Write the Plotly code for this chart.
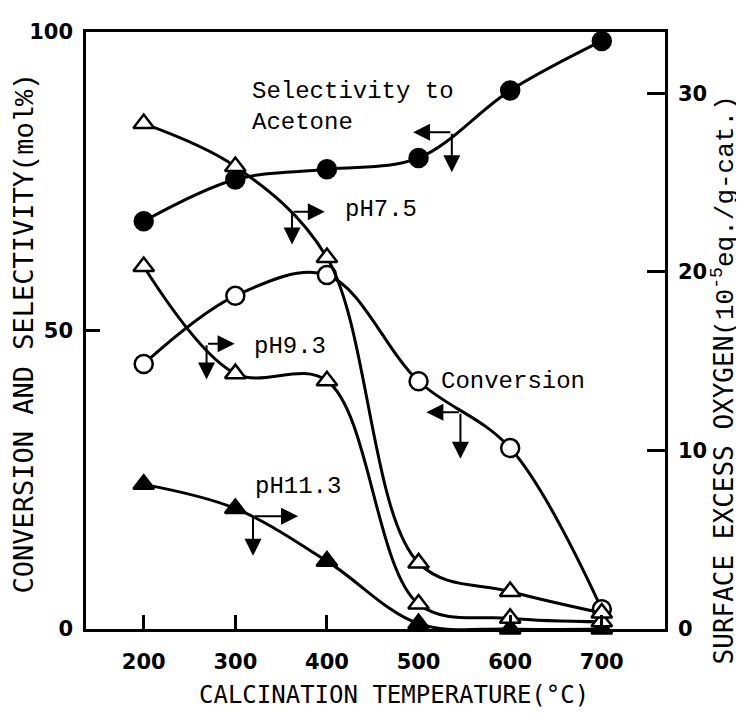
import plotly.graph_objects as go

# ---- data ----
temps = [200, 300, 400, 500, 600, 700]
selectivity = [68.3, 75.3, 77.0, 78.9, 90.2, 98.5]      # left axis (mol%)
conversion = [44.4, 55.8, 59.3, 41.5, 30.3, 3.3]        # left axis (mol%)
ph75 = [28.3, 25.9, 20.8, 3.7, 2.1, 0.9]                # right axis
ph93 = [20.3, 14.3, 13.9, 1.4, 0.6, 0.4]                # right axis
ph113 = [8.1, 6.75, 3.8, 0.3, 0.0, 0.0]                 # right axis

x_ticks = [200, 300, 400, 500, 600, 700]
left_ticks = [0, 50, 100]
right_ticks = [0, 10, 20, 30]

# label annotations (text, x, y on left axis)
labels = [
    ("Selectivity to<br>Acetone", 316.4, 87.5),
    ("pH7.5", 417.7, 70.2),
    ("pH9.3", 318.2, 47.4),
    ("Conversion", 522.1, 41.5),
    ("pH11.3", 319.3, 23.8),
]
# L-shaped arrow pairs: junction (x, y), horizontal head x, vertical head y
arrow_pairs = [
    (536.3, 83.2, 494.0, 76.5),
    (361.9, 69.9, 397.7, 64.4),
    (268.6, 47.8, 299.2, 41.8),
    (545.7, 36.3, 508.5, 28.5),
    (319.3, 18.9, 368.5, 12.25),
]

TICK_FONT = dict(family="DejaVu Sans", size=21, color="black", weight="bold")
TXT_FONT = dict(family="Liberation Mono", size=24, color="black")
LW = 3

fig = go.Figure()

def add(y, symbol, fill, yaxis):
    fig.add_trace(go.Scatter(
        x=temps, y=y, yaxis=yaxis, mode="lines+markers",
        line=dict(color="black", width=LW, shape="spline", smoothing=1.0),
        marker=dict(symbol=symbol, size=18,
                    color=fill, line=dict(color="black", width=2.5)),
        cliponaxis=False, showlegend=False))

add(ph113, "triangle-up", "black", "y2")
add(ph93, "triangle-up", "white", "y2")
add(ph75, "triangle-up", "white", "y2")
add(conversion, "circle", "white", "y")
add(selectivity, "circle", "black", "y")

ann = []
for t, x, y in labels:
    ann.append(dict(text=t, x=x, y=y, xref="x", yref="y", xanchor="left",
                    yanchor="middle", align="left", showarrow=False, font=TXT_FONT))
for jx, jy, hx, vy in arrow_pairs:
    for (x2, y2) in [(hx, jy), (jx, vy)]:
        ann.append(dict(text="", x=x2, y=y2, ax=jx, ay=jy, xref="x", yref="y",
                        axref="x", ayref="y", showarrow=True, arrowhead=2,
                        arrowsize=1.7, arrowwidth=2, arrowcolor="black"))

ann.append(dict(text="CALCINATION TEMPERATURE(°C)", x=0.532, y=-0.111,
                xref="paper", yref="paper", showarrow=False,
                xanchor="center", yanchor="middle",
                font=dict(family="DejaVu Sans Mono", size=24, color="black")))
ann.append(dict(text='CONVERSION AND SELECTIVITY<span style="font-family:Liberation Mono">(mol%)</span>',
                x=-0.107, y=0.495, xref="paper", yref="paper", showarrow=False,
                textangle=-90, xanchor="center", yanchor="middle",
                font=dict(family="DejaVu Sans Mono", size=27, color="black")))
ann.append(dict(text='SURFACE EXCESS OXYGEN<span style="font-family:Liberation Mono">(10<sup>-5</sup>eq./g-cat.)</span>',
                x=1.1025, y=0.417, xref="paper", yref="paper", showarrow=False,
                textangle=-90, xanchor="center", yanchor="middle",
                font=dict(family="DejaVu Sans Mono", size=26, color="black")))

# page body has an 8px margin: shrink the figure and shift the plot area
fig.update_layout(
    width=736, height=709,
    margin=dict(l=78, r=79, t=17, b=88),
    paper_bgcolor="white", plot_bgcolor="white",
    annotations=ann,
    xaxis=dict(range=[137, 769], tickvals=x_ticks, ticks="inside", ticklen=14,
               tickwidth=2.5, tickcolor="black", showline=True, linewidth=2.5,
               linecolor="black", mirror=True, showgrid=False, zeroline=False,
               tickfont=TICK_FONT, ticklabelstandoff=12),
    yaxis=dict(range=[0, 100], tickvals=left_ticks, ticks="inside", ticklen=14,
               tickwidth=2.5, tickcolor="black", showline=True, linewidth=2.5,
               linecolor="black", showgrid=False, zeroline=False,
               tickfont=TICK_FONT, ticklabelstandoff=6),
    yaxis2=dict(range=[0, 33.43], tickvals=right_ticks, ticks="inside", ticklen=18,
                tickwidth=2.5, tickcolor="black", showline=True, linewidth=2.5,
                linecolor="black", overlaying="y", side="right", showgrid=False,
                zeroline=False, tickfont=TICK_FONT, ticklabelstandoff=6),
)

fig.write_html("out.html")
